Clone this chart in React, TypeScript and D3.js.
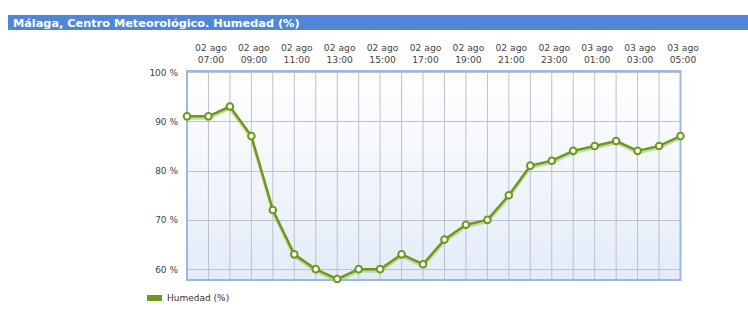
import React from "react";
import * as d3 from "d3";

const title = "Málaga, Centro Meteorológico. Humedad (%)";
const hours = ["06:00","07:00","08:00","09:00","10:00","11:00","12:00","13:00","14:00","15:00","16:00","17:00","18:00","19:00","20:00","21:00","22:00","23:00","00:00","01:00","02:00","03:00","04:00","05:00"];
const days = ["02 ago","02 ago","02 ago","02 ago","02 ago","02 ago","02 ago","02 ago","02 ago","02 ago","02 ago","02 ago","02 ago","02 ago","02 ago","02 ago","02 ago","02 ago","03 ago","03 ago","03 ago","03 ago","03 ago","03 ago"];
const humidity = [91,91,93,87,72,63,60,58,60,60,63,61,66,69,70,75,81,82,84,85,86,84,85,87];
const yTicks = [60,70,80,90,100];
const seriesName = "Humedad (%)";

export default function App() {
  const W = 748, H = 313;
  const left = 187, right = 680.5, top = 72, bottom = 280;
  const x = d3.scaleLinear().domain([0, humidity.length - 1]).range([left, right]);
  const y = d3.scaleLinear().domain([57.8, 100]).range([bottom, top]);
  const line = d3.line<number>().x((_, i) => x(i)).y(d => y(d));
  const idx = d3.range(humidity.length);
  const font = "'DejaVu Sans', Verdana, sans-serif";
  const green = "#6b9a1a";
  return (
    <svg width={W} height={H} style={{ position: "absolute", left: 0, top: 0 }}>
      <defs>
        <linearGradient id="bg" x1="0" y1="0" x2="0" y2="1">
          <stop offset="0" stopColor="#ffffff" />
          <stop offset="1" stopColor="#e4ecf8" />
        </linearGradient>
      </defs>
      <rect x={0} y={0} width={W} height={H} fill="#fff" />
      <rect x={8} y={15} width={W - 8} height={15} fill="#5086d8" />
      <text x={13} y={26.5} fill="#fff" fontFamily={font} fontWeight="bold" fontSize={11.3}>{title}</text>
      <rect x={left} y={top - 1} width={right - left} height={bottom - top + 1} fill="url(#bg)" />
      {idx.map(i => (
        <line key={"v" + i} x1={x(i)} x2={x(i)} y1={top} y2={bottom} stroke="#bcc0cf" strokeWidth={1} />
      ))}
      {yTicks.map(t => (
        <line key={"h" + t} x1={left} x2={right} y1={Math.round(y(t)) + 0.5} y2={Math.round(y(t)) + 0.5} stroke="#bcc0cf" strokeWidth={1} />
      ))}
      <rect x={left} y={top - 1} width={right - left} height={bottom - top + 1} fill="none" stroke="#9bb6e0" strokeWidth={2} />
      {yTicks.map(t => (
        <text key={"yt" + t} x={178} y={y(t) + 3.5} textAnchor="end" fontFamily={font} fontSize={9} fill="#444">{t} %</text>
      ))}
      {idx.filter(i => i % 2 === 1).map(i => (
        <g key={"xt" + i}>
          <text x={x(i) + 2.5} y={51} textAnchor="middle" fontFamily={font} fontSize={9.2} fill="#444">{days[i]}</text>
          <text x={x(i) + 2.5} y={63} textAnchor="middle" fontFamily={font} fontSize={9.2} fill="#444">{hours[i]}</text>
        </g>
      ))}
      <path d={line(humidity) || ""} transform="translate(0,2)" fill="none" stroke="#a8c878" strokeOpacity={0.6} strokeWidth={3} />
      <path d={line(humidity) || ""} fill="none" stroke={green} strokeWidth={2.5} strokeLinejoin="round" />
      {humidity.map((v, i) => (
        <circle key={"p" + i} cx={x(i)} cy={y(v)} r={3.3} fill="#fff" stroke={green} strokeWidth={2} />
      ))}
      <rect x={147} y={295} width={15} height={6} fill={green} />
      <text x={167} y={301} fontFamily={font} fontSize={9} fill="#333">{seriesName}</text>
    </svg>
  );
}
